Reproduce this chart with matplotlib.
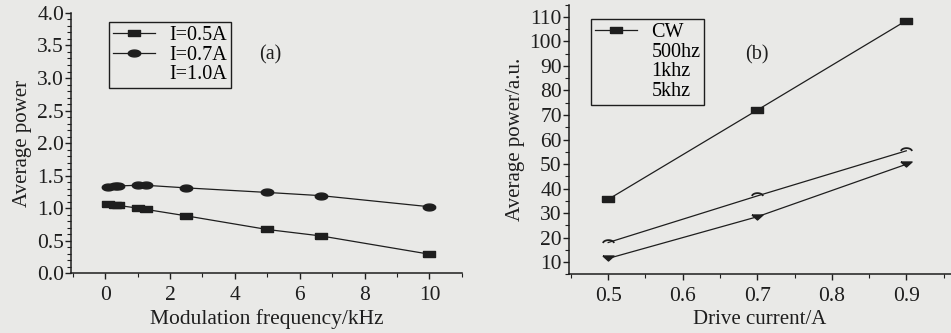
import matplotlib
matplotlib.use('Agg')
import matplotlib.pyplot as plt
import numpy as np
from matplotlib.lines import Line2D
from matplotlib.ticker import MultipleLocator

plt.rcParams['font.family'] = ['Liberation Serif', 'DejaVu Serif']

# (a) average power vs modulation frequency
freq = [0.1, 0.3, 0.4, 1.0, 1.25, 2.5, 5.0, 6.67, 10.0]
p_05A = [1.06, 1.04, 1.04, 1.00, 0.98, 0.88, 0.67, 0.57, 0.29]
p_07A = [1.33, 1.34, 1.34, 1.35, 1.35, 1.31, 1.24, 1.19, 1.02]
labels_a = ['I=0.5A', 'I=0.7A', 'I=1.0A']

# (b) average power vs drive current
current = [0.5, 0.7, 0.9]
p_cw = [35.6, 72.0, 108.5]
p_500hz = [18.0, 37.0, 55.4]
p_5khz = [11.5, 28.5, 49.9]
labels_b = ['CW', '500hz', '1khz', '5khz']

bg = '#e9e9e7'
ink = '#1e1e1e'

# flattened markers, the scan is squashed vertically
rect = [(-1, -0.5), (1, -0.5), (1, 0.5), (-1, 0.5), (-1, -0.5)]
t = np.linspace(0, 2 * np.pi, 30)
ellipse = list(zip(np.cos(t), 0.55 * np.sin(t)))
t2 = np.linspace(0.15, np.pi - 0.15, 15)
arc = list(zip(np.cos(t2), 0.6 * np.sin(t2)))
tri = [(-1, 0.45), (1, 0.45), (0, -0.45), (-1, 0.45)]

fig = plt.figure(figsize=(9.51, 3.33), dpi=100, facecolor=bg)

ax1 = fig.add_axes([0.0747, 0.180, 0.411, 0.781], facecolor=bg)
ax2 = fig.add_axes([0.598, 0.176, 0.402, 0.810], facecolor=bg)

ax1.plot(freq, p_05A, color=ink, lw=0.9, marker=rect, ms=9)
ax1.plot(freq, p_07A, color=ink, lw=0.9, marker=ellipse, ms=9)
ax1.set_xlim(-1.05, 11.0)
ax1.set_ylim(0, 4.0)
ax1.xaxis.set_major_locator(MultipleLocator(2))
ax1.xaxis.set_minor_locator(MultipleLocator(1))
ax1.yaxis.set_major_locator(MultipleLocator(0.5))
ax1.yaxis.set_minor_locator(MultipleLocator(0.1))
ax1.yaxis.set_major_formatter(plt.FormatStrFormatter('%.1f'))
ax1.set_xlabel('Modulation frequency/kHz', fontsize=15.5, color=ink, labelpad=3)
ax1.set_ylabel('Average power', fontsize=15, color=ink, labelpad=4)
ax1.text(5.1, 3.35, '(a)', fontsize=14.5, color=ink, ha='center', va='center')
handles_a = [Line2D([], [], color=ink, lw=0.9, marker=rect, ms=9),
             Line2D([], [], color=ink, lw=0.9, marker=ellipse, ms=9),
             Line2D([], [], color='none')]
ax1.legend(handles_a, labels_a, loc='upper left', bbox_to_anchor=(0.097, 0.965),
           fontsize=14.5, frameon=True, fancybox=False, edgecolor=ink,
           facecolor=bg, framealpha=1, labelspacing=0.02, handlelength=2.1,
           borderpad=0.2, handletextpad=0.7, borderaxespad=0)

ax2.plot(current, p_cw, color=ink, lw=0.9, marker=rect, ms=8)
ax2.plot(current, p_500hz, color=ink, lw=0.9, marker=arc, ms=8, mfc='none', mew=1.3)
ax2.plot(current, p_5khz, color=ink, lw=0.9, marker=tri, ms=8)
ax2.set_xlim(0.447, 0.96)
ax2.set_ylim(5, 115)
ax2.xaxis.set_major_locator(MultipleLocator(0.1))
ax2.xaxis.set_minor_locator(MultipleLocator(0.05))
ax2.yaxis.set_minor_locator(MultipleLocator(5))
ax2.set_yticks(range(10, 111, 10))
ax2.set_xlabel('Drive current/A', fontsize=15, color=ink, labelpad=3)
ax2.set_ylabel('Average power/a.u.', fontsize=15, color=ink, labelpad=3)
ax2.text(0.7, 94.5, '(b)', fontsize=14.5, color=ink, ha='center', va='center')
handles_b = [Line2D([], [], color=ink, lw=0.9, marker=rect, ms=8)] + \
            [Line2D([], [], color='none') for _ in range(3)]
ax2.legend(handles_b, labels_b, loc='upper left', bbox_to_anchor=(0.058, 0.947),
           fontsize=14.5, frameon=True, fancybox=False, edgecolor=ink,
           facecolor=bg, framealpha=1, labelspacing=0.02, handlelength=2.1,
           borderpad=0.2, handletextpad=0.7, borderaxespad=0)

for ax in (ax1, ax2):
    for s in ('top', 'right'):
        ax.spines[s].set_visible(False)
    for s in ('left', 'bottom'):
        ax.spines[s].set_color(ink)
        ax.spines[s].set_linewidth(1.1)
    ax.tick_params(which='major', direction='out', length=4, width=1.0,
                   colors=ink, labelsize=15.5, pad=1)
    ax.tick_params(which='minor', direction='out', length=3, width=0.8, colors=ink)
    ax.tick_params(axis='x', pad=5)

fig.savefig('out.png', dpi=100, facecolor=bg)
